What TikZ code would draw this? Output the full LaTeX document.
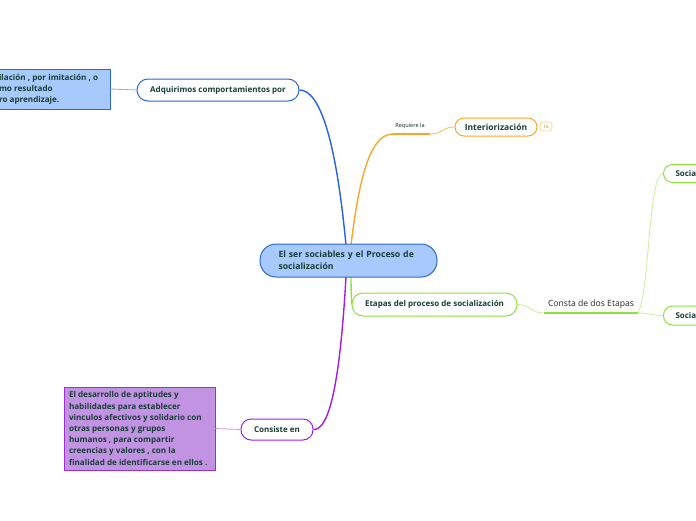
\documentclass[tikz,border=0pt]{standalone}
\usepackage{fontspec}
\setmainfont{Open Sans}
\definecolor{txt}{HTML}{173F35}
\definecolor{bblue}{HTML}{2561E8}
\definecolor{nblue}{HTML}{2A66DD}
\definecolor{lblue}{HTML}{A7C9FB}
\definecolor{cblue}{HTML}{8FB6F2}
\definecolor{orng}{HTML}{F9A825}
\definecolor{grn}{HTML}{8FE03F}
\definecolor{lgrn}{HTML}{C4F29A}
\definecolor{purp}{HTML}{A21CE8}
\definecolor{npurp}{HTML}{9B2FD0}
\definecolor{fpurp}{HTML}{C393E3}
\definecolor{cpurp}{HTML}{D59AF2}
\begin{document}
\begin{tikzpicture}[x=1pt,y=-1pt,
  lbl/.style={font=\bfseries\fontsize{8}{11}\selectfont,text=txt},
  pill/.style={draw,fill=white,line width=1pt,rounded corners=#1,inner sep=0pt,lbl},
  sqbox/.style={draw,line width=1pt,inner ysep=0pt,align=flush left,lbl,anchor=center},
  branch/.style={line width=1.4pt}
]
\useasboundingbox (0,0) rectangle (696,520);
\clip (0,0) rectangle (696,520);
% free ends of connectors
\coordinate (cTopB) at (346,245);
\coordinate (cTopO) at (351,245);
\coordinate (cBotP) at (346,277);
\coordinate (cBotG) at (351,277);
\coordinate (reqA) at (393,134);
\coordinate (reqB) at (430,134);
\coordinate (conA) at (544,313);
\coordinate (conB) at (638,313);

\node[sqbox,fill=lblue,draw=nblue,text width=106pt,inner xsep=5pt,minimum height=40pt,
  font=\bfseries\fontsize{8.1}{11}\selectfont] (left) at (52,89)
  {ilación , por imitación , o\\mo resultado\\ro aprendizaje.};
\node[pill=11pt,draw=nblue,minimum width=162pt,minimum height=22pt] (adq) at (218,90) {Adquirimos comportamientos por};
\node[pill=9pt,draw=orng,minimum width=82pt,minimum height=18pt,font=\bfseries\fontsize{8.5}{10}\selectfont] (int) at (496,127) {Interiorización};
\node[draw=orng!60,line width=0.6pt,rounded corners=3pt,minimum width=12pt,minimum height=9pt,inner sep=0pt,
  text=orng!70!black,font=\fontsize{4.5}{5}\selectfont] (badge) at (546,126.5) {16};
\node[pill=11pt,draw=grn,minimum width=165pt,minimum height=23pt] (eta) at (434.5,304.5) {Etapas del proceso de socialización};
\node[pill=10pt,draw=purp,minimum width=72pt,minimum height=21pt] (con) at (277,429.5) {Consiste en};
\node[pill=9pt,draw=grn,text width=60pt,inner xsep=12pt,align=left,minimum height=18pt,anchor=west] (soc1) at (663,173.5) {Socia};
\node[pill=9pt,draw=grn,text width=60pt,inner xsep=12pt,align=left,minimum height=19pt,anchor=west] (soc2) at (663,315.5) {Socia};
\node[sqbox,fill=fpurp,draw=npurp,text width=147pt,inner xsep=2pt,minimum height=83pt,
  font=\bfseries\fontsize{8.1}{11.2}\selectfont] (pbox) at (139.5,428.5)
  {\hspace*{3pt}El desarrollo de aptitudes y\\\hspace*{3pt}habilidades para establecer\\\hspace*{3pt}vinculos afectivos y solidario con\\\hspace*{3pt}otras personas y grupos\\\hspace*{3pt}humanos , para compartir\\\hspace*{3pt}creencias y valores , con la\\\hspace*{3pt}finalidad de identificarse en ellos .};

% connectors
\draw[cblue,line width=0.9pt] (left.east) -- (adq.west);
\draw[cpurp,line width=0.9pt] (pbox.east) -- (con.west);
\draw[bblue,branch] (cTopB) .. controls (336,140) and (320,90) .. (adq.east);
\draw[orng,branch] (cTopO) .. controls (360,170) and (372,134) .. (reqA);
\draw[orng,line width=1.4pt] (reqA) -- (reqB);
\draw[orng!80,line width=0.8pt] (reqB) .. controls (443,134) and (442,127) .. (int.west);
\draw[purp,branch] (cBotP) .. controls (340,380) and (330,430) .. (con.east);
\draw[grn,branch] (cBotG) .. controls (351,296) and (352,304.5) .. (eta.west);
\draw[lgrn,line width=0.8pt] (eta.east) .. controls (532,305) and (530,313) .. (conA);
\draw[grn,line width=1.8pt] (conA) -- (conB);
\draw[lgrn,line width=0.8pt] (conB) .. controls (650,290) and (648,175) .. (soc1.west);
\draw[lgrn,line width=0.8pt] (conB) .. controls (650,313) and (652,315.5) .. (soc2.west);

\node[font=\fontsize{5.6}{7}\selectfont,text=txt!70!black,inner sep=0pt] (req) at (410,126) {Requiere la};
\node[font=\fontsize{8.6}{10}\selectfont,text=black!85,inner sep=0pt] (consta) at (591,304) {Consta de dos Etapas};

% central node
\node[draw=nblue,fill=lblue,line width=1pt,rounded corners=16pt,minimum width=177pt,minimum height=33pt,
  text width=145pt,inner xsep=16pt,inner ysep=0pt,align=left,font=\bfseries\fontsize{8.7}{12}\selectfont,text=txt] (cen) at (348.5,260.5)
  {\hspace*{2.5pt}El ser sociables y el Proceso de\\\hspace*{2.5pt}socialización};
\end{tikzpicture}
\end{document}
